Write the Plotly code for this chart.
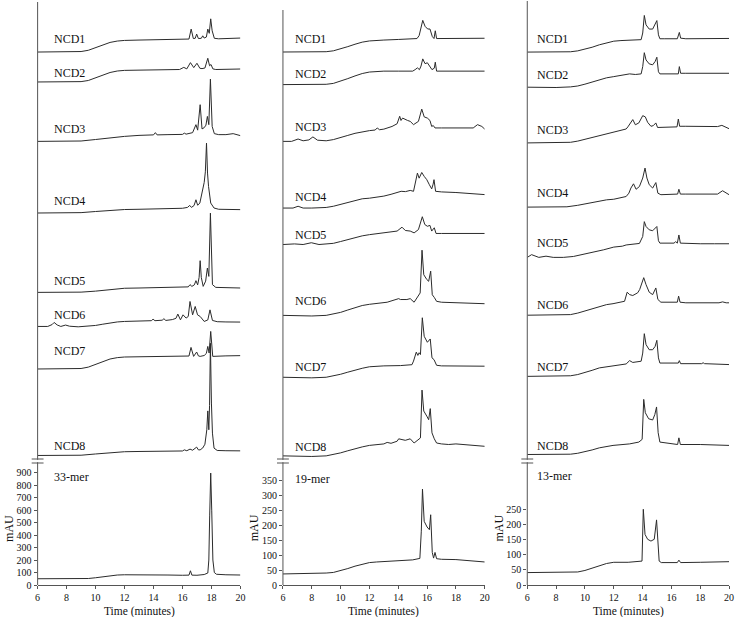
import plotly.graph_objects as go

# ---------------- DATA (time in minutes, signal in mAU) ----------------
# Column 1 (33-mer digest) stacked traces: signal above each trace's own start
c1_ncd1_t = [6, 8, 9, 9.5, 10, 10.5, 11, 11.5, 12, 13, 14, 15, 16, 16.45, 16.6, 16.75, 16.88, 16.98, 17.1, 17.3, 17.4, 17.5, 17.65, 17.75, 17.85, 17.95, 18.05, 18.2, 18.5, 19, 20]
c1_ncd1_v = [0, 0, 4, 14, 35, 58, 77, 88, 93, 96, 98, 100, 102, 104, 184, 108, 110, 144, 108, 110, 130, 112, 120, 184, 150, 266, 170, 110, 106, 108, 112]
c1_ncd2_t = [6, 8, 9, 9.5, 10, 10.5, 11, 11.5, 12, 13, 14, 15, 15.8, 16.09, 16.3, 16.55, 16.78, 17.0, 17.2, 17.35, 17.55, 17.75, 17.87, 17.97, 18.1, 18.3, 19, 20]
c1_ncd2_v = [0, 0, 3, 12, 32, 56, 76, 88, 93, 95, 96, 97, 100, 117, 105, 155, 115, 150, 110, 107, 112, 190, 130, 140, 105, 100, 100, 104]
c1_ncd3_t = [6, 8, 9, 10, 11, 12, 13, 14.0, 14.13, 14.25, 15, 16, 16.13, 16.25, 16.7, 16.93, 17.05, 17.22, 17.35, 17.5, 17.62, 17.72, 17.82, 17.93, 18.05, 18.2, 18.5, 19, 19.5, 19.8, 20]
c1_ncd3_v = [0, 0, 3, 15, 30, 40, 48, 52, 70, 52, 54, 56, 66, 58, 70, 134, 90, 294, 100, 110, 130, 200, 134, 499, 120, 62, 54, 54, 62, 56, 46]
c1_ncd4_t = [6, 8, 9, 10, 11, 12, 13, 14, 15, 16, 16.35, 16.5, 16.62, 16.8, 16.93, 17.05, 17.2, 17.39, 17.5, 17.58, 17.66, 17.73, 17.8, 17.95, 18.18, 18.5, 19, 20]
c1_ncd4_v = [0, 0, 3, 12, 22, 28, 30, 32, 34, 38, 45, 61, 45, 60, 106, 62, 80, 186, 245, 330, 560, 320, 213, 80, 40, 30, 28, 27]
c1_ncd5_t = [6, 8, 9, 10, 11, 12, 13, 14, 15, 16, 16.4, 16.52, 16.65, 16.82, 16.93, 17.05, 17.15, 17.22, 17.3, 17.43, 17.6, 17.72, 17.82, 17.93, 18.07, 18.3, 19, 20]
c1_ncd5_v = [0, 0, 2, 10, 24, 33, 35, 36, 37, 40, 44, 62, 48, 60, 94, 60, 120, 254, 120, 48, 90, 195, 128, 635, 62, 40, 36, 35]
c1_ncd6_t = [6, 6.7, 7.0, 7.14, 7.35, 7.6, 7.93, 8.2, 8.8, 9.5, 10, 10.5, 11, 11.5, 12, 13, 13.85, 13.97, 14.1, 14.6, 14.72, 14.85, 15.3, 15.55, 15.68, 15.86, 16.04, 16.25, 16.4, 16.52, 16.7, 16.88, 17.04, 17.22, 17.5, 17.75, 17.9, 18.07, 18.4, 19, 20]
c1_ncd6_v = [0, 0, 15, 32, 12, 0, 11, 2, -3, 0, 8, 18, 28, 36, 40, 44, 46, 58, 46, 50, 62, 48, 55, 65, 99, 53, 93, 67, 80, 200, 93, 160, 93, 80, 40, 52, 133, 48, 38, 36, 35]
c1_ncd7_t = [6, 8, 9, 9.5, 10, 10.5, 11, 11.5, 12, 13, 14, 15, 16, 16.45, 16.59, 16.77, 16.98, 17.1, 17.22, 17.5, 17.65, 17.75, 17.84, 17.95, 18.09, 18.3, 19, 20]
c1_ncd7_v = [0, 0, 4, 15, 36, 60, 80, 91, 96, 98, 99, 100, 102, 104, 173, 101, 136, 105, 101, 108, 125, 181, 128, 301, 101, 103, 105, 107]
c1_ncd8_t = [6, 8, 9, 10, 11, 12, 13, 14, 15, 16, 16.13, 16.3, 16.52, 16.7, 16.98, 17.1, 17.22, 17.4, 17.55, 17.68, 17.75, 17.82, 17.87, 17.93, 18.0, 18.07, 18.18, 18.4, 19, 20]
c1_ncd8_v = [0, 0, 2, 12, 24, 30, 32, 33, 34, 36, 45, 38, 51, 42, 67, 45, 45, 60, 90, 206, 357, 206, 400, 899, 420, 179, 59, 40, 38, 37]
c1_ref_t = [6, 8, 9, 9.5, 10, 10.5, 11, 11.5, 12, 13, 14, 15, 16, 16.45, 16.55, 16.65, 17, 17.5, 17.75, 17.82, 17.88, 17.95, 18.02, 18.1, 18.2, 18.35, 19, 20]
c1_ref_v = [50, 50, 50, 52, 58, 66, 74, 80, 82, 83, 82, 80, 78, 79, 114, 79, 78, 84, 96, 200, 560, 897, 600, 200, 100, 86, 82, 80]

# Column 2 (19-mer digest)
c2_ncd1_t = [6, 8, 9, 9.5, 10, 10.5, 11, 11.5, 12, 12.5, 13, 14, 15, 15.3, 15.45, 15.58, 15.7, 15.86, 16.04, 16.2, 16.36, 16.48, 16.57, 16.66, 17, 18, 19, 20]
c2_ncd1_v = [0, 0, 1, 4, 10, 18, 26, 33, 37, 39, 40, 42, 44, 45, 55, 80, 106, 86, 77, 77, 52, 45, 71, 45, 45, 45, 45, 46]
c2_ncd2_t = [6, 8, 9, 9.5, 10, 10.5, 11, 11.5, 12, 12.5, 13, 14, 15, 15.17, 15.33, 15.47, 15.58, 15.7, 15.86, 16.02, 16.2, 16.34, 16.5, 16.57, 16.66, 17, 18, 19, 20]
c2_ncd2_v = [0, 0, 1, 4, 11, 20, 29, 37, 42, 44, 45, 45, 45, 50, 56, 50, 62, 86, 70, 73, 61, 50, 55, 75, 45, 45, 45, 45, 45]
c2_ncd3_t = [6, 6.6, 7.05, 7.4, 7.8, 8.08, 8.4, 9, 9.5, 10, 10.5, 11, 11.5, 12, 12.4, 12.54, 12.7, 13, 13.57, 13.92, 14.1, 14.19, 14.3, 14.49, 14.65, 14.83, 15.06, 15.4, 15.63, 15.8, 16.02, 16.2, 16.32, 16.43, 16.55, 17, 18, 19.2, 19.5, 19.8, 20]
c2_ncd3_v = [0, 0, 8, 2, 5, 15, 4, 2, 6, 12, 20, 27, 32, 36, 38, 45, 39, 41, 50, 59, 84, 70, 78, 73, 70, 67, 56, 67, 108, 82, 78, 70, 50, 53, 45, 45, 45, 45, 56, 50, 41]
c2_ncd4_t = [6, 6.7, 7.05, 7.4, 8, 9, 9.5, 10, 10.5, 11, 11.5, 12, 12.5, 13, 13.5, 13.9, 14.2, 14.5, 14.83, 15.06, 15.22, 15.33, 15.45, 15.63, 15.8, 15.98, 16.16, 16.32, 16.42, 16.48, 16.59, 17, 18, 19, 20]
c2_ncd4_v = [0, 0, 6, 0, 0, 2, 6, 12, 18, 25, 31, 33, 36, 40, 46, 52, 56, 55, 59, 56, 100, 117, 100, 119, 106, 95, 78, 64, 80, 95, 56, 54, 52, 49, 45]
c2_ncd5_t = [6, 6.8, 7.4, 7.97, 8.5, 9, 9.5, 10, 10.5, 11, 11.5, 12, 12.5, 13, 13.92, 14.26, 14.49, 14.83, 15.1, 15.4, 15.67, 15.84, 16.02, 16.2, 16.32, 16.5, 16.62, 17, 18, 19, 20]
c2_ncd5_v = [0, 2, 0, 6, 0, 1, 4, 10, 17, 24, 29, 33, 36, 39, 45, 58, 47, 45, 39, 50, 93, 67, 61, 64, 45, 56, 37, 37, 37, 37, 37]
c2_ncd6_t = [6, 8, 9, 9.5, 10, 10.5, 11, 11.5, 12, 12.5, 13.23, 14.03, 14.15, 14.6, 14.83, 15.1, 15.4, 15.52, 15.65, 15.77, 15.98, 16.11, 16.25, 16.36, 16.5, 16.66, 17, 18, 19, 20]
c2_ncd6_v = [0, -2, 0, 4, 10, 18, 26, 33, 37, 40, 44, 56, 53, 53, 56, 44, 69, 75, 218, 136, 120, 114, 148, 69, 60, 47, 44, 42, 40, 39]
c2_ncd7_t = [6, 8, 9, 9.5, 10, 10.5, 11, 11.5, 12, 12.5, 13, 14.15, 14.95, 15.06, 15.25, 15.36, 15.45, 15.54, 15.67, 15.8, 16.02, 16.22, 16.34, 16.48, 16.66, 17, 18, 19, 20]
c2_ncd7_v = [0, -2, 0, 4, 10, 17, 24, 30, 35, 37, 38, 39, 42, 54, 84, 73, 82, 76, 199, 137, 117, 128, 65, 59, 40, 38, 37, 37, 37]
c2_ncd8_t = [6, 8, 9, 9.5, 10, 10.5, 11, 11.5, 12, 12.5, 13, 13.23, 13.5, 13.92, 14.03, 14.49, 14.83, 15.1, 15.4, 15.54, 15.65, 15.77, 15.98, 16.11, 16.22, 16.34, 16.5, 16.66, 17, 17.5, 18, 19, 20]
c2_ncd8_v = [0, -2, 0, 4, 10, 17, 24, 30, 35, 38, 40, 45, 42, 49, 57, 52, 57, 43, 55, 60, 220, 150, 133, 121, 158, 77, 57, 43, 40, 38, 40, 36, 32]
c2_ref_t = [6, 8, 9, 9.5, 10, 10.5, 11, 11.5, 12, 12.5, 13, 14, 15, 15.5, 15.6, 15.68, 15.8, 16.0, 16.16, 16.25, 16.36, 16.45, 16.55, 16.66, 17, 18, 19, 20]
c2_ref_v = [37, 38, 40, 42, 48, 55, 63, 70, 75, 77, 78, 80, 84, 89, 180, 321, 213, 194, 185, 235, 109, 90, 109, 88, 86, 85, 81, 77]

# Column 3 (13-mer digest)
c3_ncd1_t = [6, 8, 9, 9.5, 10, 10.5, 11, 11.5, 12, 12.5, 13, 13.9, 14.01, 14.12, 14.24, 14.46, 14.7, 14.87, 14.99, 15.1, 15.2, 15.5, 16.41, 16.55, 16.64, 17, 18, 19, 20]
c3_ncd1_v = [0, 0, 1, 4, 9, 16, 24, 31, 36, 38, 39, 41, 63, 121, 90, 76, 76, 90, 104, 57, 44, 44, 44, 65, 46, 44, 44, 44, 45]
c3_ncd2_t = [6, 8, 9, 9.5, 10, 10.5, 11, 11.5, 12, 12.5, 13.1, 13.5, 13.9, 14.01, 14.12, 14.24, 14.46, 14.7, 14.87, 14.99, 15.1, 15.2, 15.5, 16.48, 16.55, 16.64, 17, 18, 19, 20]
c3_ncd2_v = [0, -1, 1, 4, 10, 17, 25, 31, 35, 38, 44, 42, 44, 68, 114, 90, 77, 74, 85, 99, 51, 44, 44, 44, 68, 46, 46, 46, 46, 46]
c3_ncd3_t = [6, 8, 9, 9.5, 10, 10.5, 11, 11.5, 12, 12.5, 12.86, 12.98, 13.16, 13.32, 13.5, 13.74, 14.01, 14.19, 14.35, 14.58, 14.74, 14.92, 15.04, 15.27, 16.39, 16.48, 16.57, 17, 18, 19.2, 19.5, 19.8, 20]
c3_ncd3_v = [0, 0, 2, 6, 12, 19, 26, 32, 38, 43, 46, 53, 64, 77, 60, 66, 90, 86, 68, 55, 57, 66, 51, 51, 53, 79, 55, 55, 55, 54, 58, 52, 47]
c3_ncd4_t = [6, 8, 8.75, 9.5, 10, 10.5, 11, 11.5, 12, 12.5, 12.86, 13.05, 13.19, 13.37, 13.55, 13.78, 14.01, 14.17, 14.3, 14.46, 14.7, 14.92, 15.06, 15.27, 16.43, 16.52, 16.62, 17, 19.2, 19.55, 19.8, 20]
c3_ncd4_v = [0, 0, 1, 6, 11, 16, 20, 24, 26, 30, 35, 46, 63, 77, 59, 68, 96, 129, 96, 74, 63, 81, 46, 41, 43, 59, 43, 43, 43, 54, 47, 41]
c3_ncd5_t = [6, 6.3, 6.8, 7.3, 7.8, 8.5, 9.2, 9.7, 10.2, 10.8, 11.3, 12, 12.6, 12.86, 13.78, 14.01, 14.12, 14.24, 14.46, 14.7, 14.87, 14.99, 15.1, 15.2, 16.18, 16.3, 16.41, 16.52, 16.62, 17, 18, 19, 20]
c3_ncd5_v = [0, 9, 0, 4, 0, 0, 3, 8, 13, 20, 25, 34, 37, 41, 46, 69, 118, 102, 91, 88, 97, 102, 55, 47, 47, 52, 47, 74, 47, 46, 45, 45, 45]
c3_ncd6_t = [6, 8, 9, 9.5, 10, 10.5, 11, 11.5, 11.95, 12.75, 12.93, 13.1, 13.32, 13.66, 13.8, 14.08, 14.24, 14.46, 14.7, 14.92, 15.06, 15.27, 16.41, 16.5, 16.6, 17, 19.3, 19.55, 19.8, 20]
c3_ncd6_v = [0, 0, 2, 7, 14, 22, 30, 35, 38, 46, 76, 68, 65, 74, 85, 124, 101, 76, 68, 90, 52, 43, 43, 63, 43, 41, 41, 44, 41, 41]
c3_ncd7_t = [6, 8, 9, 9.5, 10, 10.5, 11, 11.5, 11.95, 12.86, 13.1, 13.32, 13.9, 14.01, 14.12, 14.24, 14.46, 14.7, 14.87, 14.99, 15.1, 15.2, 16.48, 16.55, 16.64, 18.1, 18.2, 18.3, 20]
c3_ncd7_v = [0, 0, 2, 6, 12, 20, 28, 32, 35, 41, 52, 46, 50, 77, 141, 105, 88, 88, 99, 119, 61, 44, 44, 52, 42, 42, 45, 42, 39]
c3_ncd8_t = [6, 8, 9, 9.5, 10, 10.5, 11, 11.5, 11.95, 13.1, 13.74, 13.97, 14.08, 14.19, 14.42, 14.7, 14.85, 14.97, 15.08, 15.2, 16.43, 16.52, 16.62, 18, 20]
c3_ncd8_v = [0, 0, 1, 4, 9, 15, 22, 27, 30, 35, 41, 50, 182, 138, 118, 114, 132, 157, 72, 41, 33, 55, 33, 33, 30]
c3_ref_t = [6, 8, 9, 9.5, 10, 10.5, 11, 11.5, 12, 13, 13.96, 14.05, 14.17, 14.35, 14.58, 14.81, 14.97, 15.08, 15.15, 15.3, 16.41, 16.52, 16.64, 18, 20]
c3_ref_v = [41, 41, 41, 43, 48, 55, 63, 71, 75, 75, 79, 250, 167, 151, 145, 151, 215, 107, 79, 74, 74, 82, 74, 75, 77]

sample_names = ["NCD1", "NCD2", "NCD3", "NCD4", "NCD5", "NCD6", "NCD7", "NCD8"]
ref_names = ["33-mer", "19-mer", "13-mer"]
y_ticks = [list(range(0, 901, 100)), list(range(0, 351, 50)), list(range(0, 251, 50))]
x_ticks = [6, 8, 10, 12, 14, 16, 18, 20]

# ---------------- LAYOUT PARAMETERS ----------------
# vertical stacking offsets (mAU on each column's axis)
c1_offsets = [4271, 4031, 3555, 2981, 2345, 2072, 1731, 1038]
c2_offsets = [1783, 1674, 1484, 1261, 1139, 902, 695, 432]
c3_offsets = [1760, 1644, 1460, 1248, 1082, 891, 689, 431]
c1_label_y = [4375, 4107, 3654, 3074, 2433, 2166, 1872, 1116, 865]
c2_label_y = [1825, 1711, 1532, 1298, 1170, 949, 728, 462, 355]
c3_label_y = [1803, 1685, 1504, 1295, 1128, 926, 721, 459, 360]
y_tops = [4688, 1957, 1932]

W, H = 740, 617
PLOT_BOTTOM = 585
col_px = [(35, 240), (283, 487), (530, 734)]
label_shift = [14, 10, 8]
axis_top_px = [2, 10, 1]
break_px = 461

columns = [
    ([(c1_ncd1_t, c1_ncd1_v), (c1_ncd2_t, c1_ncd2_v), (c1_ncd3_t, c1_ncd3_v), (c1_ncd4_t, c1_ncd4_v),
      (c1_ncd5_t, c1_ncd5_v), (c1_ncd6_t, c1_ncd6_v), (c1_ncd7_t, c1_ncd7_v), (c1_ncd8_t, c1_ncd8_v)],
     (c1_ref_t, c1_ref_v), c1_offsets, c1_label_y),
    ([(c2_ncd1_t, c2_ncd1_v), (c2_ncd2_t, c2_ncd2_v), (c2_ncd3_t, c2_ncd3_v), (c2_ncd4_t, c2_ncd4_v),
      (c2_ncd5_t, c2_ncd5_v), (c2_ncd6_t, c2_ncd6_v), (c2_ncd7_t, c2_ncd7_v), (c2_ncd8_t, c2_ncd8_v)],
     (c2_ref_t, c2_ref_v), c2_offsets, c2_label_y),
    ([(c3_ncd1_t, c3_ncd1_v), (c3_ncd2_t, c3_ncd2_v), (c3_ncd3_t, c3_ncd3_v), (c3_ncd4_t, c3_ncd4_v),
      (c3_ncd5_t, c3_ncd5_v), (c3_ncd6_t, c3_ncd6_v), (c3_ncd7_t, c3_ncd7_v), (c3_ncd8_t, c3_ncd8_v)],
     (c3_ref_t, c3_ref_v), c3_offsets, c3_label_y),
]

FONT = "Liberation Serif"
LINE = "#2b2b2b"
AXC = "#555555"

fig = go.Figure()
shapes = []
annotations = []


def py(ypx):
    return (PLOT_BOTTOM - ypx) / PLOT_BOTTOM


for i, (samples, ref, offsets, label_y) in enumerate(columns):
    n = "" if i == 0 else str(i + 1)
    xa, ya = "x" + n, "y" + n
    for (t, v), off in zip(samples, offsets):
        fig.add_trace(go.Scatter(x=t, y=[off + s for s in v], mode="lines",
                                 line=dict(color=LINE, width=1), xaxis=xa, yaxis=ya,
                                 showlegend=False, hoverinfo="skip"))
    fig.add_trace(go.Scatter(x=ref[0], y=ref[1], mode="lines",
                             line=dict(color=LINE, width=1), xaxis=xa, yaxis=ya,
                             showlegend=False, hoverinfo="skip"))
    x0, x1 = col_px[i]
    fig.layout["xaxis" + n] = dict(
        domain=[x0 / W, x1 / W], range=[6, 20], tickvals=x_ticks, ticks="outside", ticklen=3,
        tickcolor=AXC, showline=True, linecolor=AXC, linewidth=1, showgrid=False, zeroline=False,
        tickfont=dict(family=FONT, size=10, color="#111"), anchor=ya, fixedrange=True)
    fig.layout["yaxis" + n] = dict(
        domain=[0, 1], range=[0, y_tops[i]], tickvals=y_ticks[i], ticks="outside", ticklen=3,
        tickcolor=AXC, showline=False, showgrid=False, zeroline=False,
        tickfont=dict(family=FONT, size=10, color="#111"), anchor=xa, fixedrange=True)
    # y axis line
    shapes.append(dict(type="line", xref="paper", yref="paper", x0=x0 / W, x1=x0 / W,
                       y0=0, y1=py(axis_top_px[i]), line=dict(color=AXC, width=1)))
    # axis break
    shapes.append(dict(type="rect", xref="paper", yref="paper", x0=(x0 - 3) / W, x1=(x0 + 3) / W,
                       y0=py(break_px + 1.2), y1=py(break_px - 1.2), fillcolor="white",
                       line=dict(width=0)))
    for d in (-2, 2):
        shapes.append(dict(type="line", xref="paper", yref="paper", x0=(x0 - 6) / W, x1=(x0 + 6) / W,
                           y0=py(break_px + d), y1=py(break_px + d), line=dict(color=AXC, width=1)))
    # sample labels
    for name, yl in zip(sample_names + [ref_names[i]], label_y):
        annotations.append(dict(x=6, y=yl, xref=xa, yref=ya, text=name, showarrow=False,
                                xanchor="left", yanchor="middle", xshift=label_shift[i],
                                font=dict(family=FONT, size=12, color="#111")))
    # axis titles
    annotations.append(dict(x=(x0 + x1) / 2 / W, y=py(611), xref="paper", yref="paper",
                            text="Time (minutes)", showarrow=False, xanchor="center",
                            yanchor="middle", font=dict(family=FONT, size=11.5, color="#111")))
    annotations.append(dict(x=(x0 - 29) / W, y=py(528), xref="paper", yref="paper", text="mAU",
                            showarrow=False, textangle=-90, xanchor="center", yanchor="middle",
                            font=dict(family=FONT, size=12, color="#111")))

fig.update_layout(width=W, height=H, margin=dict(l=0, r=0, t=0, b=H - PLOT_BOTTOM),
                  paper_bgcolor="white", plot_bgcolor="white", shapes=shapes,
                  annotations=annotations, showlegend=False)

fig.write_html("out.html", config={"displayModeBar": False, "staticPlot": True},
               post_script="document.body.style.margin='0';document.body.style.overflow='hidden';")
